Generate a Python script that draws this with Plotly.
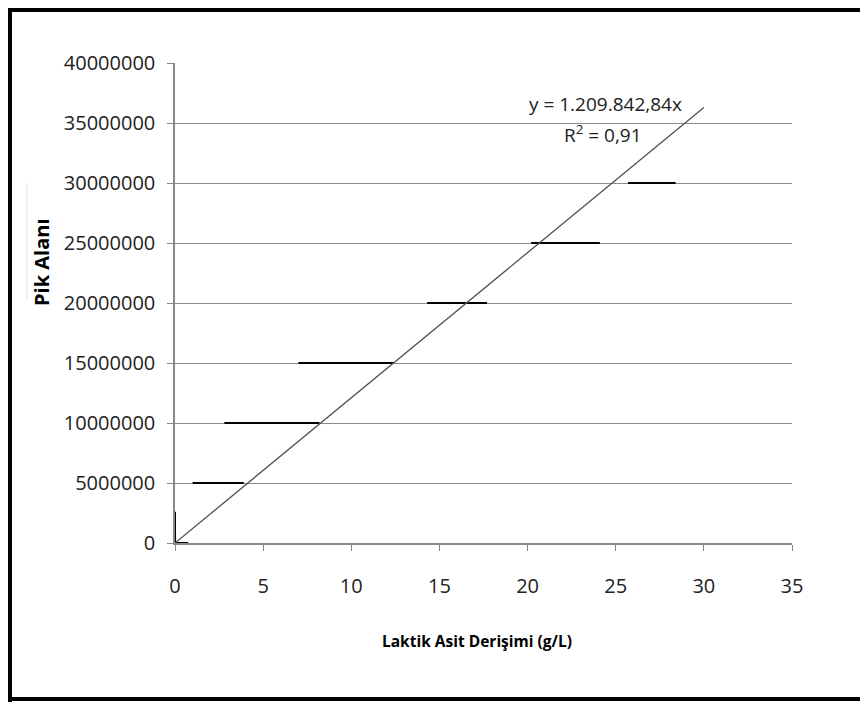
import plotly.graph_objects as go

# Data
seg_levels = [0, 5000000, 10000000, 15000000, 20000000, 25000000, 30000000]
seg_x_start = [0.0, 1.0, 2.8, 7.0, 14.3, 20.2, 25.7]
seg_x_end = [0.75, 3.9, 8.2, 12.4, 17.7, 24.1, 28.4]
vert_x = [0, 0]
vert_y = [0, 2600000]
trend_slope = 1209842.84
trend_x = [0, 30]
x_ticks = [0, 5, 10, 15, 20, 25, 30, 35]
y_ticks = [0, 5000000, 10000000, 15000000, 20000000, 25000000, 30000000, 35000000, 40000000]

FONT = "Open Sans, Noto Sans, sans-serif"

OFF = 8  # page body margin
W, H = 868 - OFF, 702 - OFF
L, R, T, B = 175, 792, 63, 543  # plot area in page pixels

fig = go.Figure()

sx, sy = [], []
for lvl, a, b in zip(seg_levels, seg_x_start, seg_x_end):
    sx += [a, b, None]
    sy += [lvl, lvl, None]
sx += vert_x + [None]
sy += vert_y + [None]
fig.add_trace(go.Scatter(x=sx, y=sy, mode="lines",
                         line=dict(color="black", width=2), showlegend=False,
                         hoverinfo="skip"))

fig.add_trace(go.Scatter(x=trend_x, y=[trend_slope * v for v in trend_x], mode="lines",
                         line=dict(color="#505050", width=1.3), showlegend=False))

def px_x(p):
    return (p - L) / (R - L)

def px_y(p):
    return (B - p) / (B - T)

shapes = [
    dict(type="line", xref="paper", yref="paper", x0=px_x(10), x1=px_x(10), y0=px_y(8), y1=px_y(702),
         line=dict(color="black", width=4)),
    dict(type="line", xref="paper", yref="paper", x0=px_x(8), x1=px_x(868), y0=px_y(10), y1=px_y(10),
         line=dict(color="black", width=4)),
    dict(type="line", xref="paper", yref="paper", x0=px_x(8), x1=px_x(868), y0=px_y(699), y1=px_y(699),
         line=dict(color="black", width=4)),
    dict(type="line", xref="paper", yref="paper", x0=px_x(27), x1=px_x(27), y0=px_y(183), y1=px_y(300),
         line=dict(color="#e0e0e0", width=1)),
]

annotations = [
    dict(text="y = 1.209.842,84x", x=px_x(605), y=px_y(104), xref="paper", yref="paper",
         xanchor="center", yanchor="middle",
         showarrow=False, font=dict(family=FONT, size=19, color="#222")),
    dict(text="R<sup>2</sup> = 0,91", x=px_x(603), y=px_y(134), xref="paper", yref="paper",
         xanchor="center", yanchor="middle",
         showarrow=False, font=dict(family=FONT, size=19, color="#222")),
    dict(text="<b>Pik Alanı</b>", x=px_x(41), y=px_y(262), xref="paper", yref="paper",
         xanchor="center", yanchor="middle",
         showarrow=False, textangle=-90, font=dict(family=FONT, size=20, color="black")),
    dict(text="<b>Laktik Asit Derişimi (g/L)</b>", x=px_x(477), y=px_y(641), xref="paper", yref="paper",
         xanchor="center", yanchor="middle",
         showarrow=False, font=dict(family=FONT, size=15.5, color="black")),
]

fig.update_layout(
    width=W, height=H,
    margin=dict(l=L - OFF, r=W - (R - OFF), t=T - OFF, b=H - (B - OFF), pad=0),
    paper_bgcolor="white", plot_bgcolor="white",
    shapes=shapes, annotations=annotations,
    font=dict(family=FONT, color="#222"),
    xaxis=dict(range=[0, 35], tickvals=x_ticks, ticks="outside", ticklen=6, tickcolor="#888",
               showgrid=False, zeroline=False, showline=True, linecolor="#888", linewidth=1.5,
               tickfont=dict(family=FONT, size=20, color="#222"), ticklabelstandoff=18),
    yaxis=dict(range=[0, 40000000], tickvals=y_ticks, ticktext=[str(v) for v in y_ticks],
               ticks="outside", ticklen=6, tickcolor="#888",
               showgrid=True, gridcolor="#8c8c8c", gridwidth=1.2, zeroline=False,
               showline=True, linecolor="#888", linewidth=1.5,
               tickfont=dict(family=FONT, size=20, color="#222"), ticklabelstandoff=8),
)

fig.write_html("out.html")
